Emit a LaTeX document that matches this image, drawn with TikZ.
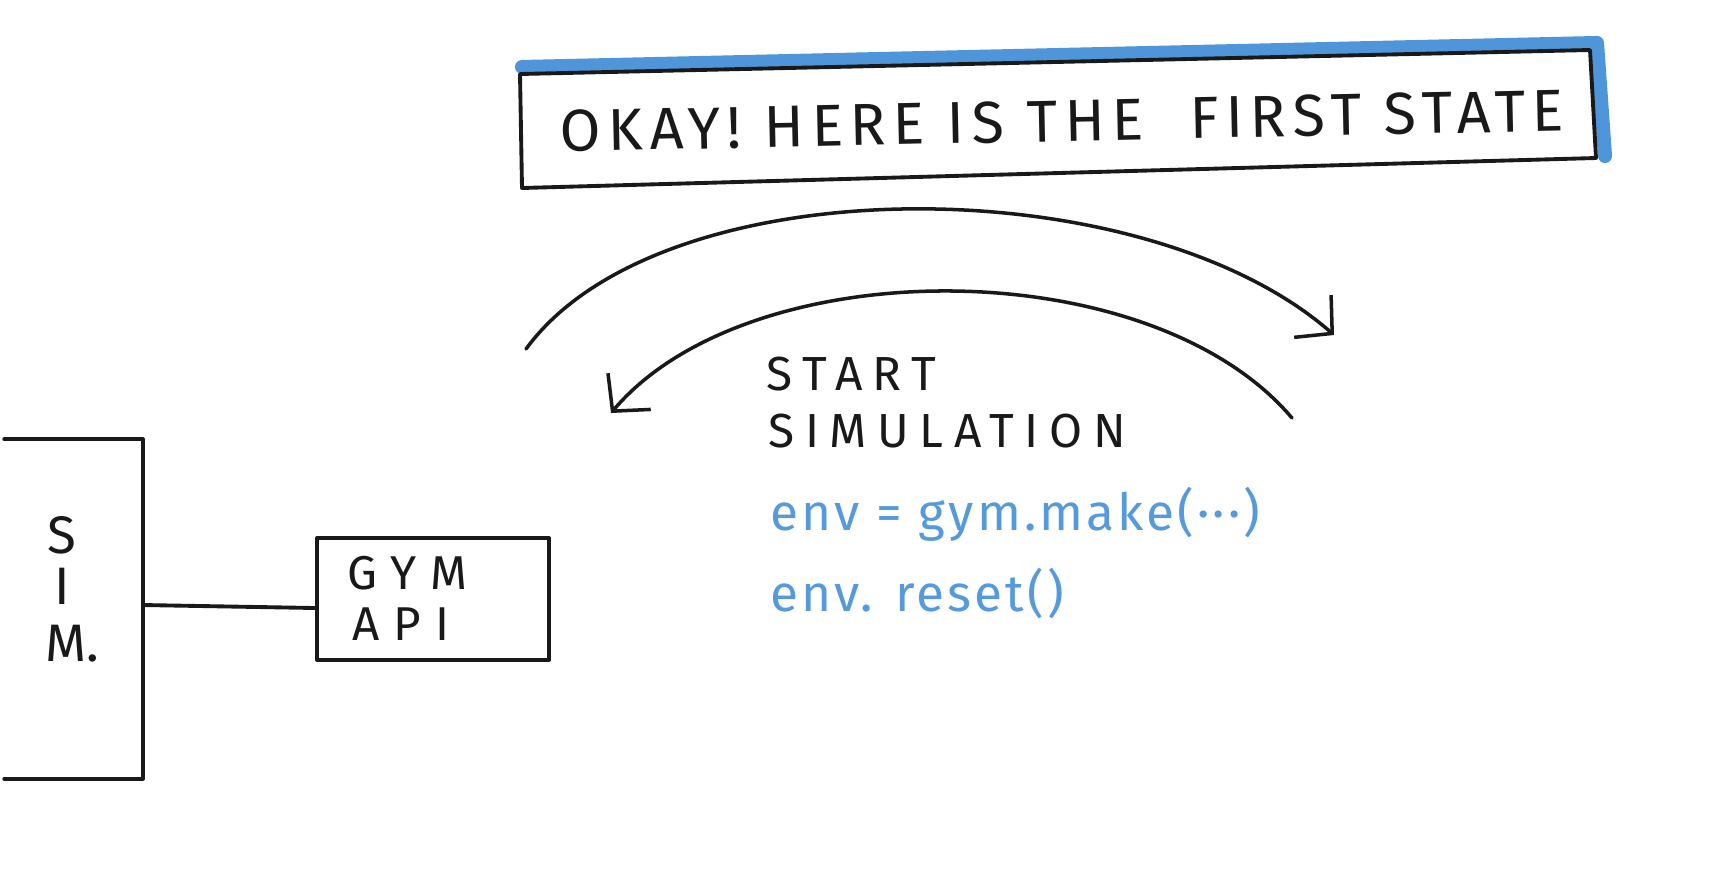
\documentclass[tikz,border=0pt]{standalone}
\usepackage{fontspec}
\setmainfont{Fira Sans}
\newfontfamily\handbig[LetterSpace=12]{Fira Sans}
\newfontfamily\handmid[LetterSpace=22]{Fira Sans}
\newfontfamily\handgym[LetterSpace=30]{Fira Sans}
\newfontfamily\handblue[LetterSpace=6]{Fira Sans}
\usetikzlibrary{arrows.meta}
\definecolor{hlblue}{RGB}{60,138,214}
\definecolor{inkblue}{RGB}{86,154,222}
\definecolor{ink}{RGB}{25,25,25}
\tikzset{
  pen/.style={draw=ink,line width=1.1pt,line cap=round,line join=round},
  arcpen/.style={draw=ink,line width=1pt,line cap=round,-{Straight Barb[length=2.6mm,width=5.6mm,line width=1pt]}},
  caps/.style={text=ink,inner sep=0pt,anchor=west},
  code/.style={text=inkblue,inner sep=0pt,anchor=west,font=\handblue\fontsize{14.6}{17}\selectfont},
  simletter/.style={text=ink,inner sep=0pt,font=\fontsize{15}{18}\selectfont},
}
\begin{document}
\begin{tikzpicture}[x=0.01cm,y=-0.01cm]
\useasboundingbox (0,0) rectangle (1712,869);
% banner
\coordinate (btl) at (520,74);
\coordinate (btr) at (1590,50);
\coordinate (bbr) at (1596,158);
\coordinate (bbl) at (522,188);
\draw[hlblue,line width=4pt,line cap=round,line join=round,opacity=0.9]
  ([shift={(2,-7)}]btl) -- ([shift={(7,-7)}]btr) -- ([shift={(9,-2)}]bbr);
\draw[pen] (btl) -- (btr) -- (bbr) -- (bbl) -- cycle;
\node[text=ink,inner sep=0pt,rotate=1.2,font=\handbig\fontsize{16.8}{20}\selectfont] (banner) at (1062,121)
  {OKAY! HERE IS THE\hspace{0.4em} FIRST STATE};
% arcs
\coordinate (a1s) at (526,349);
\coordinate (a1e) at (1334,335);
\draw[arcpen] (a1s) .. controls (660,165) and (1140,165) .. (a1e);
\coordinate (a2s) at (1292,418);
\coordinate (a2e) at (611,413);
\draw[arcpen] (a2s) .. controls (1150,250) and (749,250) .. (a2e);
% labels
\node[caps,font=\handmid\fontsize{13.6}{16}\selectfont] (start) at (766,374) {START};
\node[caps,font=\handmid\fontsize{13.6}{16}\selectfont] (simul) at (768,431) {SIMULATION};
\node[code] (make) at (770,514) {env = gym.make(···)};
\node[code] (reset) at (770,594) {env. reset()};
% SIM box
\node[minimum width=1.37cm,minimum height=3.38cm,inner sep=0pt] (sim) at (73.5,609) {};
\draw[pen] (sim.north west) -- (sim.north east) -- (sim.south east) -- (sim.south west);
\node[simletter] (s1) at (62,535) {S};
\node[simletter] (s2) at (62,586) {I};
\node[simletter] (s3) at (72,644) {M.};
% GYM API box
\node[pen,minimum width=2.32cm,minimum height=1.22cm,inner sep=0pt] (gym) at (433,599) {};
\node[text=ink,inner sep=0pt,anchor=west,align=left,font=\handgym\fontsize{13.5}{14.5}\selectfont]
  (gymtxt) at (347,598) {GYM\\\hspace{0.1em}API};
\draw[pen] ([yshift=-0.06cm]gym.west -| sim.east) -- ([yshift=-0.09cm]gym.west);
\end{tikzpicture}
\end{document}
